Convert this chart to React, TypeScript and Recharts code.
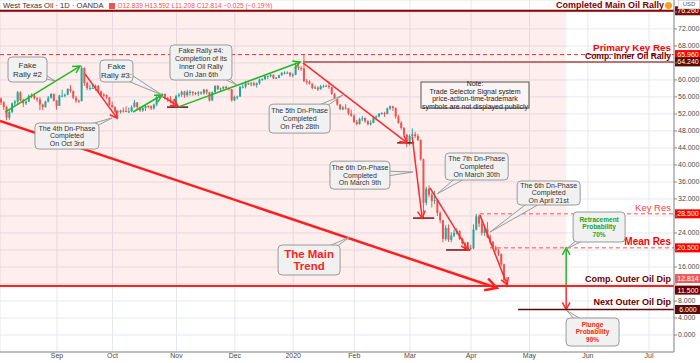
import React from 'react'
import {
  ComposedChart,
  Bar,
  XAxis,
  YAxis,
  CartesianGrid,
  ReferenceLine,
  ReferenceArea,
} from 'recharts'

// daily candles [open, high, low, close], one small list per month
const aug2019 = [
  [55.6, 55.9, 54.1, 54.7], [54.7, 55.0, 52.9, 53.6], [53.6, 53.9, 50.5, 51.1], [51.1, 52.9, 50.6, 52.5],
  [52.5, 54.7, 52.2, 54.5], [54.5, 55.3, 53.9, 54.9], [54.9, 57.4, 54.2, 57.1], [57.1, 57.3, 54.9, 55.2],
  [55.2, 55.6, 53.6, 54.5], [54.5, 55.2, 54.1, 54.9], [54.9, 56.6, 54.8, 56.2], [56.2, 56.8, 55.7, 56.3],
  [56.3, 56.9, 55.4, 55.7], [55.7, 56.0, 54.8, 55.4], [55.4, 55.9, 52.9, 54.2], [54.2, 54.4, 52.9, 53.6],
  [53.6, 55.1, 53.5, 54.9], [54.9, 56.2, 54.7, 55.8], [55.8, 56.9, 55.6, 56.7], [56.7, 56.8, 54.9, 55.1],
]
const sep2019 = [
  [55.1, 55.3, 53.0, 53.9], [53.9, 56.5, 53.9, 56.3], [56.3, 57.7, 55.9, 56.3], [56.3, 56.8, 55.9, 56.5],
  [56.5, 58.0, 56.4, 57.9], [57.9, 58.8, 57.0, 57.4], [57.4, 57.5, 55.5, 55.8], [55.8, 56.2, 54.6, 55.1],
  [55.1, 55.4, 54.6, 54.9], [55.0, 63.3, 55.0, 62.8], [62.8, 63.0, 58.6, 59.3], [59.3, 59.6, 57.6, 58.1],
  [58.1, 58.9, 57.5, 58.1], [58.1, 59.0, 57.9, 58.1], [58.1, 58.9, 57.5, 58.6], [58.6, 58.8, 56.9, 57.3],
  [57.3, 57.5, 55.9, 56.5], [56.5, 56.9, 55.9, 56.4], [56.4, 56.6, 55.5, 55.9], [55.9, 56.0, 53.9, 54.1],
]
const oct2019 = [
  [54.1, 54.9, 53.4, 53.6], [53.6, 53.8, 52.3, 52.6], [52.6, 52.9, 50.9, 52.4], [52.4, 53.0, 52.1, 52.8],
  [52.8, 53.5, 52.3, 52.7], [52.7, 53.8, 52.4, 52.6], [52.6, 53.5, 52.2, 52.6], [52.6, 54.0, 52.4, 53.6],
  [53.6, 55.3, 53.5, 54.7], [54.7, 54.8, 52.9, 53.6], [53.6, 53.7, 52.5, 52.8], [52.8, 53.9, 52.5, 53.4],
  [53.4, 54.1, 52.7, 53.9], [53.9, 54.0, 53.3, 53.8], [53.8, 54.0, 52.9, 53.3], [53.3, 54.4, 53.0, 54.2],
  [54.2, 56.2, 53.8, 56.0], [56.0, 56.6, 55.7, 56.2], [56.2, 56.9, 55.9, 56.7], [56.7, 56.8, 55.4, 55.8],
  [55.8, 56.0, 54.8, 55.5], [55.5, 56.2, 54.5, 55.1], [55.1, 55.2, 53.6, 54.2],
]
const nov2019 = [
  [54.2, 56.5, 54.0, 56.2], [56.2, 56.9, 55.9, 56.5], [56.5, 57.5, 56.0, 57.2], [57.2, 57.4, 55.8, 56.4],
  [56.4, 57.6, 56.0, 57.2], [57.2, 57.6, 56.3, 57.2], [57.2, 57.3, 56.3, 56.9], [56.9, 57.2, 56.4, 56.8],
  [56.8, 57.4, 56.2, 57.1], [57.1, 57.3, 56.5, 56.8], [56.8, 57.9, 56.6, 57.7], [57.7, 57.8, 56.6, 57.1],
  [57.1, 57.2, 54.9, 55.2], [55.2, 57.3, 55.0, 57.1], [57.1, 58.7, 57.0, 58.6], [58.6, 58.8, 57.6, 57.8],
  [57.8, 58.2, 57.4, 58.0], [58.0, 58.5, 57.7, 58.4], [58.4, 58.6, 57.9, 58.1], [58.1, 58.2, 57.5, 57.8],
  [57.8, 57.9, 54.9, 55.2],
]
const dec2019 = [
  [55.2, 56.3, 55.0, 56.0], [56.0, 56.3, 55.4, 56.1], [56.1, 58.6, 56.0, 58.4], [58.4, 59.0, 58.0, 58.4],
  [58.4, 59.8, 58.0, 59.2], [59.2, 59.4, 58.8, 59.0], [59.0, 59.5, 58.5, 59.2], [59.2, 59.6, 58.5, 58.8],
  [58.8, 59.4, 58.2, 59.2], [59.2, 60.3, 58.9, 60.1], [60.1, 60.4, 59.8, 60.2], [60.2, 61.0, 60.0, 60.9],
  [60.9, 61.0, 60.2, 60.9], [60.9, 61.4, 60.6, 61.2], [61.2, 61.3, 60.2, 60.4], [60.4, 60.7, 60.2, 60.5],
  [60.5, 61.2, 60.4, 61.1], [61.1, 61.8, 61.0, 61.7], [61.7, 62.0, 61.3, 61.7], [61.7, 62.0, 61.4, 61.7],
  [61.7, 61.9, 60.7, 61.1],
]
const jan2020 = [
  [61.1, 61.6, 60.6, 61.2], [61.2, 64.1, 61.1, 63.1], [63.1, 64.24, 62.3, 62.8], [62.8, 63.2, 62.1, 62.7],
  [62.7, 65.96, 59.5, 59.7], [59.7, 60.2, 58.9, 59.6], [59.6, 59.9, 58.9, 59.1], [59.1, 59.2, 57.8, 58.1],
  [58.1, 58.7, 57.9, 58.2], [58.2, 58.5, 57.4, 57.8], [57.8, 58.8, 57.7, 58.5], [58.5, 58.9, 58.2, 58.5],
  [58.5, 58.9, 58.4, 58.6], [58.6, 59.7, 57.9, 58.3], [58.3, 58.4, 56.5, 56.7], [56.7, 56.9, 55.1, 55.6],
  [55.6, 55.7, 53.9, 54.2], [54.2, 54.3, 52.9, 53.1], [53.1, 53.9, 52.9, 53.5], [53.5, 54.3, 53.0, 53.3],
  [53.3, 53.4, 51.7, 52.1], [52.1, 53.0, 51.3, 51.6],
]
const feb2020 = [
  [51.6, 51.9, 49.9, 50.1], [50.1, 50.6, 49.3, 49.6], [49.6, 51.1, 49.5, 50.8], [50.8, 51.5, 50.3, 51.0],
  [51.0, 51.2, 49.9, 50.3], [50.3, 50.5, 49.3, 49.6], [49.6, 50.5, 49.3, 49.9], [49.9, 51.3, 49.8, 51.2],
  [51.2, 51.7, 50.5, 51.4], [51.4, 52.2, 51.2, 52.1], [52.1, 52.4, 51.8, 52.2], [52.2, 52.5, 51.3, 52.0],
  [52.0, 53.5, 51.9, 53.3], [53.3, 54.0, 52.9, 53.8], [53.8, 53.9, 52.7, 53.4], [53.4, 53.5, 50.9, 51.4],
  [51.4, 51.8, 49.7, 49.9], [49.9, 50.3, 48.3, 48.7], [48.7, 48.9, 46.6, 47.1], [47.1, 47.3, 44.2, 45.0],
]
const mar2020 = [
  [45.0, 47.2, 44.6, 46.8], [46.8, 48.6, 46.4, 47.2], [47.2, 47.8, 46.3, 46.8], [46.8, 47.3, 45.6, 45.9],
  [45.9, 46.0, 41.0, 41.3], [41.3, 41.5, 27.4, 31.1], [31.1, 34.9, 30.5, 34.4], [34.4, 35.2, 32.4, 33.0],
  [33.0, 33.5, 30.0, 31.5], [31.5, 33.9, 30.8, 31.7], [31.7, 32.0, 28.0, 28.7], [28.7, 29.1, 26.3, 27.0],
  [27.0, 27.1, 21.8, 22.6], [22.6, 25.8, 22.2, 25.2], [25.2, 26.0, 21.9, 22.4], [22.4, 24.2, 21.8, 23.4],
  [23.4, 24.8, 23.0, 24.0], [24.0, 25.2, 23.6, 24.5], [24.5, 24.6, 22.3, 22.6], [22.6, 22.9, 21.2, 21.5],
  [21.5, 21.9, 19.9, 20.1], [20.1, 21.7, 19.9, 20.5],
]
const apr2020 = [
  [20.5, 21.2, 19.9, 20.4], [20.4, 26.0, 20.2, 24.8], [24.8, 28.5, 24.6, 27.9], [27.9, 28.4, 25.4, 26.2],
  [26.2, 27.0, 23.4, 24.0], [24.0, 25.9, 23.3, 25.0], [25.0, 26.6, 22.8, 23.0], [23.0, 23.6, 21.3, 21.9],
  [21.9, 22.1, 20.4, 20.6], [20.6, 21.0, 19.6, 19.9], [19.9, 20.3, 18.6, 19.0], [19.0, 19.2, 16.2, 16.6],
  [16.6, 16.8, 12.5, 12.9], [12.839, 13.592, 11.208, 12.814],
]
const months = [aug2019, sep2019, oct2019, nov2019, dec2019, jan2020, feb2020, mar2020, apr2020]
const monthLabels = ['Aug', 'Sep', 'Oct', 'Nov', 'Dec', '2020', 'Feb', 'Mar', 'Apr']
// empty future bars until the next month starts: rest of Apr, May, Jun
const futureBars = [8, 21, 22]
const futureLabels = ['May', 'Jun', 'Jul']
const lastPrice = 12.814

// horizontal levels drawn by the author
const levelPrices = [76.26, 65.96, 64.24, 28.5, 20.5, 11.5, 6.0]
const levelNames = [
  'Completed Main Oil Rally', 'Primary Key Res', 'Comp. Inner Oil Rally',
  'Key Res', 'Mean Res', 'Comp. Outer Oil Dip', 'Next Outer Oil Dip',
]
const levelFrom = [-0.5, -0.5, 108.5, 172.2, 175.8, -0.5, 185.9]

// callouts: text, box centre and tip, both as [bar index, price]
const calloutText = [
  ['Fake', 'Rally #2'],
  ['Fake', 'Rally #3:'],
  ['Fake Rally #4:', 'Completion of its', 'Inner Oil Rally', 'On Jan 6th'],
  ['The 4th Dn-Phase', 'Completed', 'On Oct 3rd'],
  ['The 5th Dn-Phase', 'Completed', 'On Feb 28th'],
  ['Note:', 'Trade Selector Signal system', 'price-action-time-trademark', 'symbols are not displayed publicly'],
  ['The 6th Dn-Phase', 'Completed', 'On March 9th'],
  ['The 7th Dn-Phase', 'Completed', 'On March 30th'],
  ['The 6th Dn-Phase', 'Completed', 'On April 21st'],
  ['The Main', 'Trend'],
  ['Retracement', 'Probability', '70%'],
  ['Plunge', 'Probability', '90%'],
]
const calloutBox = [
  [9.4, 62.45], [41.4, 62.1], [71.8, 64.1], [23.6, 46.8], [107.3, 50.9], [170.4, 56.45],
  [129.0, 37.6], [171.0, 39.63], [196.9, 33.4], [110.7, 17.64], [215.05, 25.4], [212.7, 0.7],
]
const calloutTip = [
  [19.3, 59.75], [57.8, 56.45], [84.8, 58.8], [39.8, 51.04], [122.9, 56.45], [170.4, 56.45],
  [148.1, 38.34], [156.8, 33.2], [175.8, 24.2], [125.4, 23.05], [203.2, 20.2], [203.2, 5.87],
]

// trend arrows [[fromIndex, fromPrice], [toIndex, toPrice]]
const greenArrows = [
  [[1.3, 52.45], [28.3, 63.27]],
  [[47.4, 52.45], [57.8, 56.45]],
  [[63.5, 53.6], [107.5, 64.2]],
  [[203.2, 11.5], [203.2, 20.5]],
]
const redArrows = [
  [[30.1, 61.4], [41.6, 51.0]],
  [[58.2, 56.0], [63.5, 53.9]],
  [[108.5, 64.0], [146, 45.2]],
  [[147.8, 46.6], [151.4, 27.5]],
  [[154.2, 34.6], [167.9, 20.0]],
  [[172.2, 28.2], [182, 11.75]],
  [[203.2, 11.5], [203.2, 6.0]],
]
const mainTrend = [[-0.5, 50.34], [178.3, 11.05]]
const dipMarks = [
  [[59.6, 53.6], [67.2, 53.6]],
  [[142.4, 45.2], [148.5, 45.2]],
  [[148.1, 27.5], [155.7, 27.5]],
  [[160, 20.0], [168.6, 20.0]],
]
const zoneBars = [-0.5, 203.2]

const UP = '#26a69a'
const DOWN = '#ef5350'
const FONT = '"Liberation Sans", Arial, sans-serif'
const X_MAX = 242

const rows: any[] = []
const monthTicks: number[] = []
const tickNames: Record<number, string> = {}
let idx = 0
months.forEach((m, k) => {
  if (k > 0) {
    monthTicks.push(idx)
    tickNames[idx] = monthLabels[k]
  }
  m.forEach(([o, h, l, c]) => {
    rows.push({ i: idx, o, h, l, c, range: [l, h] })
    idx++
  })
})
idx--
futureBars.forEach((n, k) => {
  idx += n
  monthTicks.push(idx)
  tickNames[idx] = futureLabels[k]
})

const priceTicks = Array.from({ length: 20 }, (_, k) => k * 4)
const badgeLevels = [...levelPrices, lastPrice]

function Candle(props: any) {
  const { x, y, width, height, payload } = props
  if (!payload) return null
  const { o, h, l, c } = payload
  const top = Math.min(y, y + height)
  const hh = Math.abs(height)
  const k = h === l ? 0 : hh / (h - l)
  const yo = top + (h - o) * k
  const yc = top + (h - c) * k
  const cx = x + width / 2
  const color = c >= o ? UP : DOWN
  return (
    <g>
      <line x1={cx} x2={cx} y1={top} y2={top + hh} stroke={color} strokeWidth={1} />
      <rect x={cx - 1} y={Math.min(yo, yc)} width={2} height={Math.max(1, Math.abs(yc - yo))} fill={color} />
    </g>
  )
}

function PriceTick(props: any) {
  const { x, y, payload } = props
  const v = payload.value
  if (badgeLevels.some(b => Math.abs(b - v) < 1.6)) return <g />
  return (
    <text x={x} y={y + 2.5} fontSize={7} fill="#4a4a4a" fontFamily={FONT}>
      {v.toFixed(3)}
    </text>
  )
}

const levelStyles = [
  { line: '#8b0000', lw: 2, dash: undefined, color: '#7a0000', fs: 9, fw: 700, above: 3, right: 10, badge: '#7a0d0d', shift: 0 },
  { line: '#ff2a2a', lw: 1, dash: '4 3', color: '#ff0000', fs: 9.8, fw: 700, above: 4, right: 3, badge: '#ff0000', shift: 0 },
  { line: '#b87474', lw: 2, dash: undefined, color: '#6b0000', fs: 8.5, fw: 700, above: 2.5, right: 3, badge: '#5c0a0a', shift: 0 },
  { line: '#ff5050', lw: 1, dash: '4 3', color: '#ff4040', fs: 9.5, fw: 400, above: 3, right: 3, badge: '#ff0000', shift: 0 },
  { line: '#ff5050', lw: 1, dash: '4 3', color: '#ff0000', fs: 10, fw: 700, above: 3, right: 3, badge: '#ff0000', shift: 0 },
  { line: '#ff2020', lw: 2, dash: undefined, color: '#6b0000', fs: 9, fw: 700, above: 4, right: 3, badge: '#6b0000', shift: 4 },
  { line: '#5c0a0a', lw: 1.5, dash: undefined, color: '#6b0000', fs: 9, fw: 700, above: 4, right: 3, badge: '#5c0a0a', shift: 0 },
]

function Badge({ x, y, value, fill }: any) {
  return (
    <g>
      <rect x={x + 1} y={y - 4.5} width={26} height={9} fill={fill} />
      <text x={x + 14} y={y + 2.5} fill="#fff" fontSize={7} textAnchor="middle" fontFamily={FONT}>
        {value.toFixed(3)}
      </text>
    </g>
  )
}

const levelShape = (k: number) => (p: any) => {
  const st = levelStyles[k]
  const { x1, x2, y1 } = p
  const right = Math.max(x1, x2)
  return (
    <g>
      <line x1={Math.min(x1, x2)} x2={right} y1={y1} y2={y1} stroke={st.line} strokeWidth={st.lw} strokeDasharray={st.dash} />
      <text x={right - st.right} y={y1 - st.above} textAnchor="end" fill={st.color} fontSize={st.fs} fontWeight={st.fw} fontFamily={FONT}>
        {levelNames[k]}
      </text>
      <Badge x={right} y={y1 + st.shift} value={levelPrices[k]} fill={st.badge} />
    </g>
  )
}

const lastShape = (p: any) => {
  const right = Math.max(p.x1, p.x2)
  return <Badge x={right} y={p.y1 - 2} value={lastPrice} fill="#f05a5a" />
}

const arrowShape = (color: string, w: number, head: number, withHead = true) => (p: any) => {
  const { x1, y1, x2, y2 } = p
  const ang = Math.atan2(y2 - y1, x2 - x1)
  const a1 = ang + Math.PI - 0.5
  const a2 = ang + Math.PI + 0.5
  return (
    <g>
      <line x1={x1} y1={y1} x2={x2} y2={y2} stroke={color} strokeWidth={w} />
      {withHead && (
        <polyline
          points={`${x2 + head * Math.cos(a1)},${y2 + head * Math.sin(a1)} ${x2},${y2} ${x2 + head * Math.cos(a2)},${y2 + head * Math.sin(a2)}`}
          fill="none"
          stroke={color}
          strokeWidth={w}
        />
      )}
    </g>
  )
}

const calloutStyles = [
  { w: 39, h: 25, fs: 8, color: '#333', fw: 400 },
  { w: 33, h: 22, fs: 8, color: '#333', fw: 400 },
  { w: 62, h: 35, fs: 7, color: '#333', fw: 400 },
  { w: 64, h: 26, fs: 7, color: '#333', fw: 400 },
  { w: 61, h: 29, fs: 7, color: '#333', fw: 400 },
  { w: 108, h: 26, fs: 7, color: '#222', fw: 400, square: true },
  { w: 60, h: 28, fs: 7, color: '#333', fw: 400 },
  { w: 63, h: 27, fs: 7, color: '#333', fw: 400 },
  { w: 63, h: 24, fs: 7, color: '#333', fw: 400 },
  { w: 62, h: 30, fs: 11.5, color: '#ff2222', fw: 700 },
  { w: 52, h: 30, fs: 6.5, color: '#1aa51a', fw: 700 },
  { w: 53, h: 28, fs: 6.5, color: '#ff2222', fw: 700 },
]

const calloutShape = (k: number) => (p: any) => {
  const st: any = calloutStyles[k]
  const { x1: tx, y1: ty, x2: cx, y2: cy } = p
  const lines = calloutText[k]
  const lh = st.fs * 1.12
  const dx = tx - cx
  const dy = ty - cy
  const len = Math.hypot(dx, dy)
  const nx = len ? -dy / len : 0
  const ny = len ? dx / len : 0
  const fill = st.square ? '#fdf3f3' : '#f1f1f1'
  const stroke = st.square ? '#555' : '#9a9a9a'
  return (
    <g>
      {len > 0 && (
        <polygon
          points={`${cx + nx * 5},${cy + ny * 5} ${tx},${ty} ${cx - nx * 5},${cy - ny * 5}`}
          fill={fill}
          stroke={stroke}
          strokeWidth={1}
        />
      )}
      <rect
        x={cx - st.w / 2}
        y={cy - st.h / 2}
        width={st.w}
        height={st.h}
        rx={st.square ? 0 : 4}
        fill={fill}
        stroke={stroke}
        strokeWidth={1}
      />
      {lines.map((t, j) => (
        <text
          key={j}
          x={cx}
          y={cy - ((lines.length - 1) * lh) / 2 + j * lh + st.fs * 0.35}
          textAnchor="middle"
          fontSize={st.fs}
          fontWeight={st.fw}
          fill={st.color}
          fontFamily={FONT}
        >
          {t}
        </text>
      ))}
    </g>
  )
}

const seg = (s: number[][]) => [
  { x: s[0][0], y: s[0][1] },
  { x: s[1][0], y: s[1][1] },
]

export default function App() {
  return (
    <div style={{ position: 'absolute', left: 0, top: 0, width: 700, height: 363, background: '#fff', overflow: 'hidden', fontFamily: FONT }}>
      <ComposedChart width={700} height={363} data={rows} margin={{ top: 0, right: 0, bottom: 0, left: 0 }}>
        <CartesianGrid stroke="#e4e9f0" strokeWidth={1} />
        <XAxis
          dataKey="i"
          type="number"
          domain={[-0.5, X_MAX]}
          allowDataOverflow
          ticks={monthTicks}
          interval={0}
          tickFormatter={(v: number) => tickNames[v] ?? ''}
          tickLine={false}
          tickSize={1}
          tickMargin={0}
          axisLine={{ stroke: '#8a8a8a' }}
          height={11}
          tick={{ fontSize: 7, fill: '#4a4a4a', fontFamily: FONT }}
        />
        <YAxis
          orientation="right"
          type="number"
          domain={[-4, 78.8]}
          allowDataOverflow
          ticks={priceTicks}
          interval={0}
          width={26}
          tickSize={3}
          tickMargin={1}
          axisLine={{ stroke: '#8a8a8a' }}
          tickLine={{ stroke: '#8a8a8a' }}
          tick={<PriceTick />}
        />
        <ReferenceArea
          x1={zoneBars[0]}
          x2={zoneBars[1]}
          y1={levelPrices[5]}
          y2={levelPrices[0]}
          fill="#f44336"
          fillOpacity={0.09}
          stroke="none"
          ifOverflow="visible"
        />
        <Bar dataKey="range" barSize={2} shape={<Candle />} isAnimationActive={false} />

        {dipMarks.map((s, k) => (
          <ReferenceLine key={`d${k}`} segment={seg(s)} ifOverflow="visible" shape={arrowShape('#7a1010', 1.5, 0, false)} />
        ))}
        <ReferenceLine segment={seg(mainTrend)} ifOverflow="visible" shape={arrowShape('#ff1f1f', 2.5, 13)} />
        {greenArrows.map((s, k) => (
          <ReferenceLine key={`g${k}`} segment={seg(s)} ifOverflow="visible" shape={arrowShape('#22b922', 1.5, 8)} />
        ))}
        {redArrows.map((s, k) => (
          <ReferenceLine key={`r${k}`} segment={seg(s)} ifOverflow="visible" shape={arrowShape('#ff2a2a', 1.5, 8)} />
        ))}

        {levelPrices.map((v, k) => (
          <ReferenceLine
            key={`l${k}`}
            segment={[{ x: levelFrom[k], y: v }, { x: X_MAX, y: v }]}
            ifOverflow="visible"
            shape={levelShape(k)}
          />
        ))}
        <ReferenceLine segment={[{ x: 200, y: lastPrice }, { x: X_MAX, y: lastPrice }]} ifOverflow="visible" shape={lastShape} />

        {calloutText.map((_, k) => (
          <ReferenceLine
            key={`c${k}`}
            segment={[
              { x: calloutTip[k][0], y: calloutTip[k][1] },
              { x: calloutBox[k][0], y: calloutBox[k][1] },
            ]}
            ifOverflow="visible"
            shape={calloutShape(k)}
          />
        ))}
      </ComposedChart>

      <div style={{ position: 'absolute', left: 3, top: 0, height: 11, display: 'flex', alignItems: 'center', whiteSpace: 'nowrap' }}>
        <span style={{ fontSize: 7.6, color: '#333', marginRight: 5 }}>West Texas Oil · 1D · OANDA</span>
        <span style={{ display: 'inline-block', width: 6, height: 6, background: '#ef5350', marginRight: 3 }} />
        <span style={{ fontSize: 6.6, color: '#ef5350' }}>O12.839 H13.592 L11.208 C12.814 −0.025 (−0.19%)</span>
      </div>
      <div style={{ position: 'absolute', left: 665, top: 2, width: 7, height: 7, borderRadius: 4, background: '#f7a21b' }} />
      <div style={{ position: 'absolute', left: 678, top: 0, width: 20, height: 7, background: '#fff', border: '1px solid #ddd', fontSize: 6, color: '#555', textAlign: 'center', lineHeight: '7px' }}>
        USD
      </div>
    </div>
  )
}
